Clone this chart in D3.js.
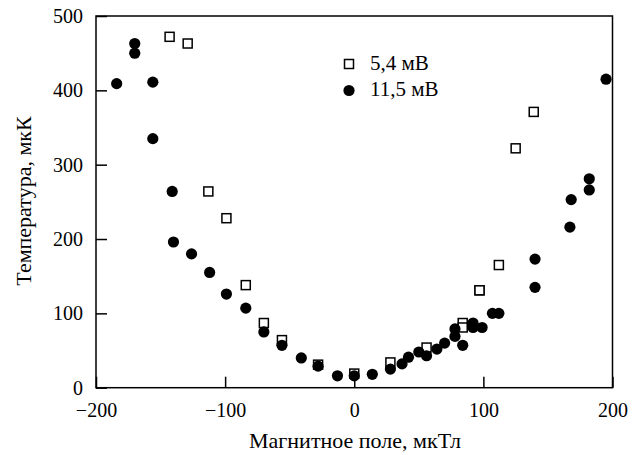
<!DOCTYPE html>
<html><head><meta charset="utf-8">
<script src="https://cdn.jsdelivr.net/npm/d3@7"></script>
<style>body{margin:0;background:#fff}svg{display:block}text{font-family:"Liberation Serif","DejaVu Serif",serif;fill:#000}</style>
</head><body><svg id="c" width="640" height="455"></svg>
<script>
const xTicks=[-200,-100,0,100,200];
const yTicks=[0,100,200,300,400,500];
const seriesNames=["5,4 мВ","11,5 мВ"];
const sqX=[-143,-129,-113,-99,-84,-70,-56,-28,0,28,56,84,84,97,97,112,125,139];
const sqY=[472,463,264,228,138,87,64,31,19,34,54,87,81,131,131,165,322,371];
const ciX=[-184,-170,-170,-156,-156,-141,-140,-126,-112,-99,-84,-70,-56,-41,-28,-13,0,14,28,37,42,50,56,64,70,78,78,84,92,92,99,107,112,140,140,167,168,182,182,195];
const ciY=[409,463,450,411,335,264,196,180,155,126,107,75,57,40,29,16,16,18,25,32,41,48,43,52,60,69,79,57,87,81,81,100,100,135,173,216,253,266,281,415];

const svg=d3.select("#c");
const L=96,R=612.5,T=16,B=387.7;
const x=d3.scaleLinear().domain([-200,200]).range([L,R]);
const y=d3.scaleLinear().domain([0,500]).range([B,T]);

svg.append("rect").attr("x",L).attr("y",T).attr("width",R-L).attr("height",B-T)
  .attr("fill","none").attr("stroke","#000").attr("stroke-width",1.5);

const xa=svg.append("g").attr("transform",`translate(0,${B})`)
  .call(d3.axisBottom(x).tickValues(xTicks).tickSizeInner(-11).tickSizeOuter(0).tickPadding(16).tickFormat(d=>d<0?"\u2212"+Math.abs(d):d));
const ya=svg.append("g").attr("transform",`translate(${L},0)`)
  .call(d3.axisLeft(y).tickValues(yTicks).tickSizeInner(-11).tickSizeOuter(0).tickPadding(13));
[xa,ya].forEach(a=>{a.select(".domain").remove();a.selectAll("line").attr("stroke","#000").attr("stroke-width",1.5);
  a.selectAll("text").attr("font-size",20).attr("font-family","Liberation Serif");});
xa.selectAll("text").attr("dy","0.67em");

const sq=9;
svg.append("g").selectAll("rect").data(sqX.map((v,i)=>[v,sqY[i]])).join("rect")
  .attr("x",d=>x(d[0])-sq/2).attr("y",d=>y(d[1])-sq/2).attr("width",sq).attr("height",sq)
  .attr("fill","#fff").attr("stroke","#000").attr("stroke-width",1.5);
svg.append("g").selectAll("circle").data(ciX.map((v,i)=>[v,ciY[i]])).join("circle")
  .attr("cx",d=>x(d[0])).attr("cy",d=>y(d[1])).attr("r",5.6).attr("fill","#000");

// legend
svg.append("rect").attr("x",349-sq/2).attr("y",64-sq/2).attr("width",sq).attr("height",sq)
  .attr("fill","#fff").attr("stroke","#000").attr("stroke-width",1.5);
svg.append("circle").attr("cx",349).attr("cy",90.5).attr("r",5.6).attr("fill","#000");
svg.append("text").attr("x",370).attr("y",70).attr("font-size",21).text(seriesNames[0]);
svg.append("text").attr("x",370).attr("y",95.5).attr("font-size",21).text(seriesNames[1]);

svg.append("text").attr("x",355).attr("y",448).attr("text-anchor","middle").attr("font-size",22).text("Магнитное поле, мкТл");
svg.append("text").attr("transform",`translate(31,201) rotate(-90)`).attr("text-anchor","middle").attr("font-size",22).text("Температура, мкК");
</script></body></html>
